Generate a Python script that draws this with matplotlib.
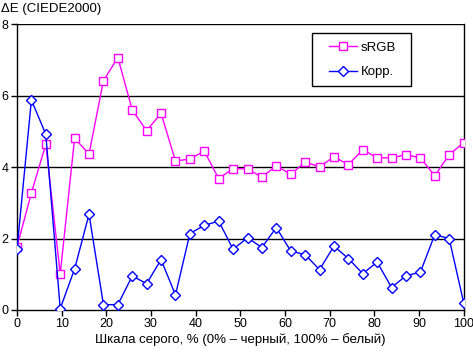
import matplotlib
matplotlib.use("Agg")
import matplotlib.pyplot as plt
from matplotlib.patches import Rectangle
import numpy as np

plt.rcParams['font.family'] = ['Liberation Sans', 'DejaVu Sans']

# grey levels: 32 steps from 0% to 100%
x = np.arange(32) * 100 / 31

srgb = [1.77, 3.28, 4.64, 1.01, 4.81, 4.37, 6.42, 7.07, 5.60, 5.02, 5.51, 4.17,
        4.23, 4.45, 3.68, 3.96, 3.95, 3.72, 4.04, 3.80, 4.14, 4.01, 4.29, 4.07,
        4.49, 4.26, 4.26, 4.35, 4.26, 3.76, 4.35, 4.68]
korr = [1.70, 5.88, 4.92, 0.04, 1.15, 2.68, 0.15, 0.15, 0.95, 0.74, 1.41, 0.42,
        2.14, 2.37, 2.49, 1.70, 2.02, 1.75, 2.31, 1.65, 1.55, 1.13, 1.79, 1.44,
        1.02, 1.34, 0.63, 0.96, 1.06, 2.11, 2.00, 0.21]

xticks = np.arange(0, 101, 10)
yticks = [0, 2, 4, 6, 8]

W, H = 473, 353
fig = plt.figure(figsize=(W / 100, H / 100), dpi=100)
ax = fig.add_axes([17 / W, 43 / H, 446.6 / W, 285.7 / H])

for y in yticks[1:]:
    ax.axhline(y, color='black', linewidth=1, zorder=1)

ax.plot(x, srgb, color='#ff00ff', linewidth=1, marker='s', markersize=5.2,
        markerfacecolor='white', markeredgecolor='#ff00ff', markeredgewidth=1,
        label='sRGB', zorder=3)
ax.plot(x, korr, color='#0000ff', linewidth=1, marker='D', markersize=5,
        markerfacecolor='white', markeredgecolor='#0000ff', markeredgewidth=1,
        label='Корр.', zorder=3)

ax.set_xlim(0, 100)
ax.set_ylim(0, 8)
ax.set_xticks(xticks)
ax.set_yticks(yticks)
ax.tick_params(direction='out', length=4, width=1, labelsize=9, pad=2)
for s in ax.spines.values():
    s.set_linewidth(1)
ax.spines['top'].set_visible(False)

ax.set_xlabel('Шкала серого, % (0% – черный, 100% – белый)', fontsize=9.5, labelpad=2)
fig.text(1 / W, 1 - 9 / H, 'ΔE (CIEDE2000)', fontsize=9.5, va='center', ha='left')

# legend box
ax.add_patch(Rectangle((311.7 / W, 1 - 86.3 / H), 99.6 / W, 53 / H,
                       transform=fig.transFigure, facecolor='white',
                       edgecolor='black', linewidth=1, zorder=5, clip_on=False))
leg = ax.legend(loc='center', bbox_to_anchor=(362.5 / W, 1 - 59.8 / H),
                bbox_transform=fig.transFigure, fontsize=9.5, frameon=False,
                labelspacing=0.95, handlelength=2.1, handletextpad=0.3,
                borderpad=0, borderaxespad=0)
leg.set_zorder(6)

fig.savefig('out.png', dpi=100)
